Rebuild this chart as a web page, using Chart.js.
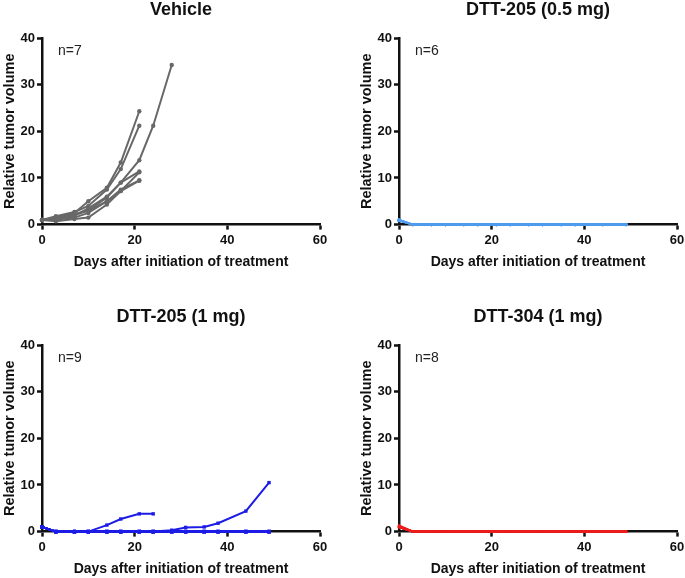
<!DOCTYPE html>
<html>
<head>
<meta charset="utf-8">
<script src="https://cdn.jsdelivr.net/npm/chart.js@4/dist/chart.umd.min.js"></script>
<style>
html,body{margin:0;padding:0;background:#fff;overflow:hidden;width:685px;height:578px;}
.p{position:absolute;width:362px;height:271px;}
</style>
</head>
<body>
<div class="p" style="left:0;top:0"><canvas id="c1"></canvas></div>
<div class="p" style="left:357px;top:0"><canvas id="c2"></canvas></div>
<div class="p" style="left:0;top:307px"><canvas id="c3"></canvas></div>
<div class="p" style="left:357px;top:307px"><canvas id="c4"></canvas></div>
<script>
// ---- data ----
const days = [0,3,7,10,14,17,21,24,28,31,35,38,44,49];
const xTicks = [0,20,40,60];
const yTicks = [0,10,20,30,40];

// Vehicle (n=7)
const veh1 = [1.0,1.5,2.5,5.0,7.9,13.3,24.3];
const veh2 = [1.0,1.8,2.7,4.0,7.5,11.9,21.2];
const veh3 = [1.0,1.2,2.0,3.5,6.0,9.0,13.8,21.2,34.2];
const veh4 = [1.0,1.4,2.3,3.0,5.8,9.0,11.4];
const veh5 = [1.0,0.7,1.2,1.5,4.3,7.2,9.4];
const veh6 = [1.0,1.1,1.5,2.5,5.0,7.5,9.5];
const veh7 = [1.0,1.0,2.0,3.0,5.0,7.2,11.2];

// DTT-205 (0.5 mg) (n=6)
const low1 = [1.0,0,0,0,0,0,0,0,0,0,0,0,0,0];
const low2 = [0.9,0,0,0,0,0,0,0,0,0,0,0,0,0];
const low3 = [1.0,0,0,0,0,0,0,0,0,0,0,0,0,0];
const low4 = [0.8,0,0,0,0,0,0,0,0,0,0,0,0,0];
const low5 = [1.0,0,0,0,0,0,0,0,0,0,0,0,0,0];
const low6 = [0.9,0,0,0,0,0,0,0,0,0,0,0,0,0];

// DTT-205 (1 mg) (n=9)
const mid1 = [1.0,0,0,0,1.4,2.7,3.8,3.8];
const mid2 = [1.0,0,0,0,0,0,0,0,0.3,0.9,1.0,1.8,4.4,10.5];
const mid3 = [1.0,0,0,0,0,0,0,0,0,0,0,0,0,0];
const mid4 = [1.0,0,0,0,0,0,0,0,0,0,0,0,0,0];
const mid5 = [1.0,0,0,0,0,0,0,0,0,0,0,0,0,0];
const mid6 = [1.0,0,0,0,0,0,0,0,0,0,0,0,0,0];
const mid7 = [1.0,0,0,0,0,0,0,0,0,0,0,0,0,0];
const mid8 = [1.0,0,0,0,0,0,0,0,0,0,0,0,0,0];
const mid9 = [1.0,0,0,0,0,0,0,0,0,0,0,0,0,0];

// DTT-304 (1 mg) (n=8)
const hi1 = [1.3,0,0,0,0,0,0,0,0,0,0,0,0,0];
const hi2 = [1.1,0,0,0,0,0,0,0,0,0,0,0,0,0];
const hi3 = [1.0,0,0,0,0,0,0,0,0,0,0,0,0,0];
const hi4 = [1.0,0,0,0,0,0,0,0,0,0,0,0,0,0];
const hi5 = [0.9,0,0,0,0,0,0,0,0,0,0,0,0,0];
const hi6 = [1.0,0,0,0,0,0,0,0,0,0,0,0,0,0];
const hi7 = [1.2,0,0,0,0,0,0,0,0,0,0,0,0,0];
const hi8 = [1.0,0,0,0,0,0,0,0,0,0,0,0,0,0];

const panels = [
  {id:'c1', title:'Vehicle', n:'n=7', color:'#686868', style:'circle', r:2.2, series:[veh1,veh2,veh3,veh4,veh5,veh6,veh7]},
  {id:'c2', title:'DTT-205 (0.5 mg)', n:'n=6', color:'#4f9cee', style:'circle', r:1.6, series:[low1,low2,low3,low4,low5,low6]},
  {id:'c3', title:'DTT-205 (1 mg)', n:'n=9', color:'#1c1ce6', style:'rect', r:2.4, series:[mid1,mid2,mid3,mid4,mid5,mid6,mid7,mid8,mid9]},
  {id:'c4', title:'DTT-304 (1 mg)', n:'n=8', color:'#ec1c1c', style:'rect', r:1.6, series:[hi1,hi2,hi3,hi4,hi5,hi6,hi7,hi8]}
];

const nLabel = {
  id:'nLabel',
  afterDraw(chart, args, opts){
    const ctx = chart.ctx, a = chart.chartArea;
    ctx.save();
    ctx.font = '14px "Liberation Sans", Arial, sans-serif';
    ctx.fillStyle = '#222';
    ctx.textBaseline = 'middle';
    ctx.textAlign = 'left';
    ctx.fillText(opts.text, a.left + 16, a.top + 13);
    ctx.restore();
  }
};

const FONT = '"Liberation Sans", Arial, sans-serif';

panels.forEach(p => {
  const datasets = p.series.map(vals => ({
    data: vals.map((v,i) => ({x: days[i], y: v})),
    borderColor: p.color,
    backgroundColor: p.color,
    borderWidth: 2,
    pointStyle: p.style,
    pointRadius: p.r,
    pointBorderWidth: 0,
    pointHoverRadius: p.r,
    tension: 0,
    clip: false
  }));
  new Chart(document.getElementById(p.id), {
    type: 'line',
    data: {datasets},
    plugins: [nLabel],
    options: {
      responsive: true,
      maintainAspectRatio: false,
      animation: false,
      events: [],
      layout: {padding: {left: 0, right: 42, top: 0, bottom: 0}},
      plugins: {
        legend: {display: false},
        tooltip: {enabled: false},
        nLabel: {text: p.n},
        title: {
          display: true,
          fullSize: false,
          text: p.title,
          color: '#111',
          font: {family: FONT, size: 18, weight: 'bold', lineHeight: 1},
          padding: {top: 1, bottom: 19}
        }
      },
      scales: {
        x: {
          type: 'linear',
          min: 0, max: 60,
          afterBuildTicks: s => { s.ticks = xTicks.map(v => ({value: v})); },
          ticks: {color: '#111', font: {family: FONT, size: 13, weight: 'bold'}, padding: 3, maxRotation: 0},
          grid: {display: true, drawOnChartArea: false, drawTicks: true, tickLength: 5, tickWidth: 2.5, tickColor: '#111'},
          border: {display: true, color: '#111', width: 2.5},
          title: {display: true, text: 'Days after initiation of treatment', color: '#111',
                  font: {family: FONT, size: 14, weight: 'bold'}, padding: {top: 3, bottom: 0}}
        },
        y: {
          type: 'linear',
          min: 0, max: 40,
          afterBuildTicks: s => { s.ticks = yTicks.map(v => ({value: v})); },
          afterFit: s => { s.width = 42; },
          ticks: {color: '#111', font: {family: FONT, size: 13, weight: 'bold'}, padding: 2},
          grid: {display: true, drawOnChartArea: false, drawTicks: true, tickLength: 5, tickWidth: 2.5, tickColor: '#111'},
          border: {display: true, color: '#111', width: 2.5},
          title: {display: true, text: 'Relative tumor volume', color: '#111',
                  font: {family: FONT, size: 14.5, weight: 'bold'}, padding: {top: 1, bottom: 0}}
        }
      }
    }
  });
});
</script>
</body>
</html>
